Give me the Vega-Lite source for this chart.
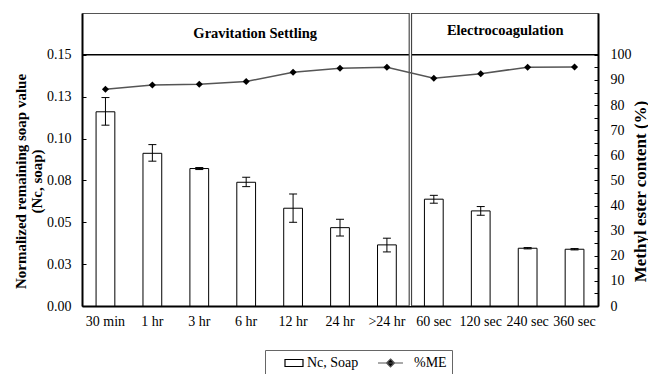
{
  "$schema": "https://vega.github.io/schema/vega-lite/v6.json",
  "width": 516,
  "height": 293,
  "autosize": {"type": "none"},
  "padding": {"left": 82, "top": 13, "right": 50, "bottom": 68},
  "background": "white",
  "config": {
    "font": "Liberation Serif",
    "view": {"stroke": "#555", "strokeWidth": 1},
    "axis": {
      "labelFont": "Liberation Serif",
      "titleFont": "Liberation Serif",
      "labelColor": "black",
      "titleColor": "black",
      "labelFontSize": 14,
      "domainColor": "black",
      "domainWidth": 2,
      "tickColor": "black",
      "grid": false
    },
    "legend": {
      "labelFont": "Liberation Serif",
      "labelFontSize": 14,
      "labelColor": "black"
    }
  },
  "datasets": {
    "main": [
      {"time": "30 min", "soap": 0.116, "lo": 0.108, "hi": 0.1245, "me": 86.3},
      {"time": "1 hr", "soap": 0.0912, "lo": 0.0865, "hi": 0.0964, "me": 88.0},
      {"time": "3 hr", "soap": 0.0821, "lo": 0.0815, "hi": 0.0827, "me": 88.3},
      {"time": "6 hr", "soap": 0.0739, "lo": 0.0713, "hi": 0.0769, "me": 89.4},
      {"time": "12 hr", "soap": 0.0584, "lo": 0.05, "hi": 0.0669, "me": 93.1},
      {"time": "24 hr", "soap": 0.0468, "lo": 0.0418, "hi": 0.0518, "me": 94.7},
      {"time": ">24 hr", "soap": 0.0365, "lo": 0.0323, "hi": 0.0405, "me": 95.1},
      {"time": "60 sec", "soap": 0.0638, "lo": 0.0614, "hi": 0.0661, "me": 90.7},
      {"time": "120 sec", "soap": 0.0568, "lo": 0.0542, "hi": 0.0594, "me": 92.5},
      {"time": "240 sec", "soap": 0.0345, "lo": 0.0341, "hi": 0.0349, "me": 95.1},
      {"time": "360 sec", "soap": 0.0339, "lo": 0.0335, "hi": 0.0343, "me": 95.2}
    ],
    "one": [{"label": "single"}],
    "gs": [{"label": "Gravitation Settling"}],
    "ec": [{"label": "Electrocoagulation"}]
  },
  "data": {"name": "main"},
  "encoding": {
    "x": {
      "field": "time",
      "type": "nominal",
      "sort": null,
      "scale": {"paddingInner": 0, "paddingOuter": 0},
      "axis": {"title": null, "labelAngle": 0, "ticks": false, "labelPadding": 8}
    }
  },
  "layer": [
    {
      "layer": [
        {
          "mark": {"type": "bar", "fill": "white", "strokeWidth": 1, "width": {"band": 0.4}},
          "encoding": {
            "y": {
              "field": "soap",
              "type": "quantitative",
              "title": ["Normalized remaining soap value", "(Nc, soap)"],
              "scale": {"domain": [0, 0.175], "nice": false, "zero": true},
              "axis": {
                "values": [0, 0.0125, 0.025, 0.0375, 0.05, 0.0625, 0.075, 0.0875, 0.1, 0.1125, 0.125, 0.1375, 0.15],
                "labelExpr": "round(datum.value*80) % 2 == 0 ? format(datum.value + 0.0001, '.2f') : ''",
                "labelOverlap": false,
                "ticks": true,
                "tickSize": -4,
                "tickWidth": 1,
                "labelPadding": 15,
                "titleFontSize": 15,
                "titleFontWeight": "bold",
                "titleLineHeight": 16,
                "titleAngle": -90,
                "titleAlign": "center",
                "titleBaseline": "middle",
                "titleX": -62,
                "titleY": 168
              }
            },
            "stroke": {
              "datum": "Nc, Soap",
              "type": "nominal",
              "scale": {"domain": ["Nc, Soap", "%ME"], "range": ["black", "#555"]},
              "legend": {
                "title": null,
                "orient": "none",
                "legendX": 183,
                "legendY": 337,
                "direction": "horizontal",
                "padding": 5,
                "strokeColor": "#666",
                "symbolSize": 196,
                "symbolStrokeWidth": 1.2,
                "labelOffset": 21,
                "columnPadding": 16,
                "encode": {
                  "symbols": {
                    "update": {
                      "shape": {"signal": "datum.value === '%ME' ? 'M-1,0H2.57M0.79,-0.57L1.36,0L0.79,0.57L0.22,0Z' : 'M1,-0.5H3.57V0.5H1Z'"},
                      "fill": {"signal": "datum.value === '%ME' ? 'black' : 'white'"},
                      "stroke": {"value": "black"},
                      "opacity": {"value": 1}
                    }
                  }
                }
              }
            }
          }
        },
        {
          "mark": {"type": "rule", "color": "black", "strokeWidth": 1},
          "encoding": {
            "y": {"field": "lo", "type": "quantitative", "title": ["Normalized remaining soap value", "(Nc, soap)"]},
            "y2": {"field": "hi"}
          }
        },
        {
          "mark": {"type": "tick", "color": "black", "size": 8, "thickness": 1, "opacity": 1},
          "encoding": {
            "y": {"field": "lo", "type": "quantitative", "title": ["Normalized remaining soap value", "(Nc, soap)"]}
          }
        },
        {
          "mark": {"type": "tick", "color": "black", "size": 8, "thickness": 1, "opacity": 1},
          "encoding": {
            "y": {"field": "hi", "type": "quantitative", "title": ["Normalized remaining soap value", "(Nc, soap)"]}
          }
        },
        {
          "data": {"name": "one"},
          "mark": {"type": "rule", "color": "black", "strokeWidth": 1.5},
          "encoding": {
            "x": {"value": 0},
            "x2": {"value": 516},
            "y": {"datum": 0.15, "type": "quantitative", "title": ["Normalized remaining soap value", "(Nc, soap)"]}
          }
        },
        {
          "data": {"name": "one"},
          "mark": {"type": "rule", "color": "#444", "strokeWidth": 3.5},
          "encoding": {
            "x": {"datum": "60 sec", "bandPosition": 0}
          }
        },
        {
          "data": {"name": "one"},
          "mark": {"type": "rule", "color": "white", "strokeWidth": 1.2},
          "encoding": {
            "x": {"datum": "60 sec", "bandPosition": 0}
          }
        },
        {
          "data": {"name": "gs"},
          "mark": {"type": "text", "font": "Liberation Serif", "fontWeight": "bold", "fontSize": 14.5, "color": "black", "dx": 9, "baseline": "middle"},
          "encoding": {
            "x": {"datum": "6 hr"},
            "y": {"datum": 0.1625, "type": "quantitative", "title": ["Normalized remaining soap value", "(Nc, soap)"]},
            "text": {"field": "label"}
          }
        },
        {
          "data": {"name": "ec"},
          "mark": {"type": "text", "font": "Liberation Serif", "fontWeight": "bold", "fontSize": 14.5, "color": "black", "dx": 1, "baseline": "middle"},
          "encoding": {
            "x": {"datum": "240 sec", "bandPosition": 0},
            "y": {"datum": 0.164, "type": "quantitative", "title": ["Normalized remaining soap value", "(Nc, soap)"]},
            "text": {"field": "label"}
          }
        }
      ]
    },
    {
      "encoding": {
        "y": {
          "field": "me",
          "type": "quantitative",
          "title": "Methyl ester content (%)",
          "scale": {"domain": [0, 116.67], "nice": false},
          "axis": {
            "orient": "right",
            "values": [0, 5, 10, 15, 20, 25, 30, 35, 40, 45, 50, 55, 60, 65, 70, 75, 80, 85, 90, 95, 100],
            "labelExpr": "datum.value % 10 == 0 ? format(datum.value, 'd') : ''",
            "labelOverlap": false,
            "ticks": true,
            "tickSize": -4,
            "tickWidth": 1,
            "labelPadding": 16,
            "titleFontSize": 17,
            "titleFontWeight": "bold",
            "titleAngle": -90,
            "titleAlign": "center",
            "titleBaseline": "middle",
            "titleX": 42,
            "titleY": 178
          }
        }
      },
      "layer": [
        {
          "mark": {"type": "line", "strokeWidth": 1.5},
          "encoding": {
            "stroke": {
              "datum": "%ME",
              "type": "nominal",
              "legend": {
                "title": null,
                "orient": "none",
                "legendX": 183,
                "legendY": 337,
                "direction": "horizontal",
                "padding": 5,
                "strokeColor": "#666",
                "symbolSize": 196,
                "symbolStrokeWidth": 1.2,
                "labelOffset": 21,
                "columnPadding": 16,
                "encode": {
                  "symbols": {
                    "update": {
                      "shape": {"signal": "datum.value === '%ME' ? 'M-1,0H2.57M0.79,-0.57L1.36,0L0.79,0.57L0.22,0Z' : 'M1,-0.5H3.57V0.5H1Z'"},
                      "fill": {"signal": "datum.value === '%ME' ? 'black' : 'white'"},
                      "stroke": {"value": "black"},
                      "opacity": {"value": 1}
                    }
                  }
                }
              }
            }
          }
        },
        {
          "mark": {"type": "point", "shape": "diamond", "filled": true, "color": "black", "size": 50, "opacity": 1}
        }
      ]
    }
  ],
  "resolve": {"scale": {"y": "independent"}}
}
